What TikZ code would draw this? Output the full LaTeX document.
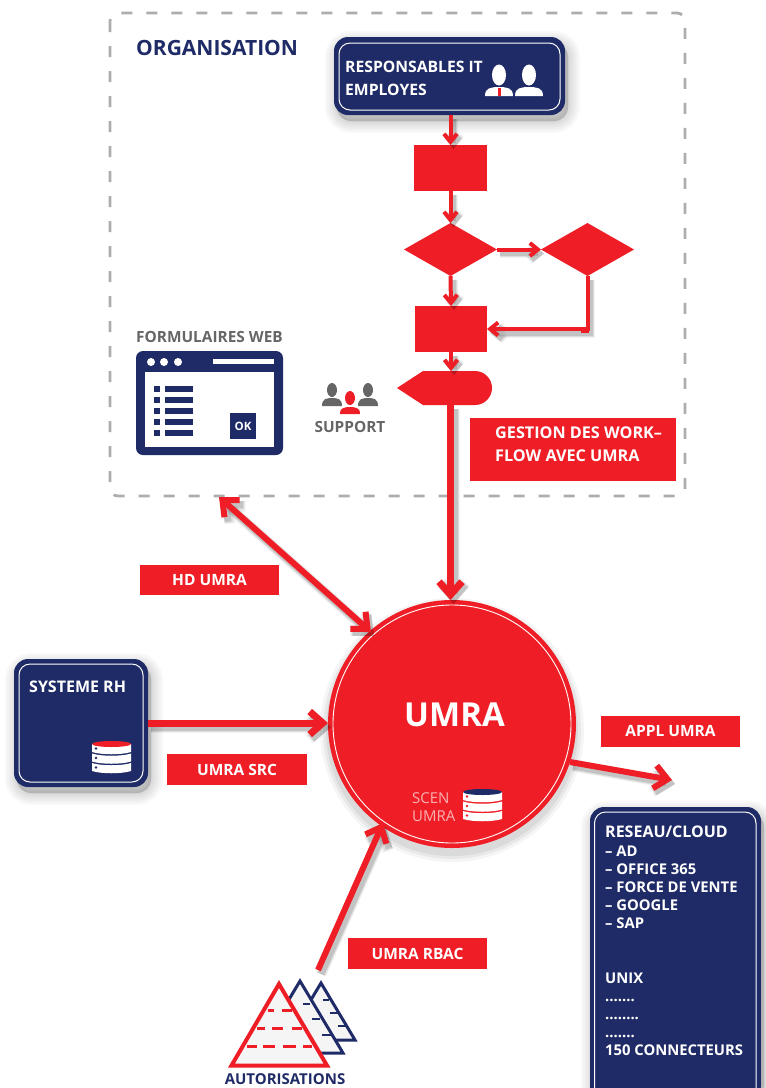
\documentclass[tikz,border=0pt]{standalone}
\usepackage{fontspec}
\setmainfont{Open Sans}
\usetikzlibrary{arrows.meta,shapes.geometric}
\definecolor{navy}{HTML}{1F2B66}
\definecolor{umred}{HTML}{EF1E26}
\definecolor{dashgray}{HTML}{ADADAD}
\definecolor{txtgray}{HTML}{666666}
\definecolor{trifill}{HTML}{F5F5F6}
\tikzset{
  redshape/.style={fill=umred,draw=none,inner sep=0pt,outer sep=0pt},
  reddia/.style={redshape,diamond,aspect=1.75,minimum width=93pt,minimum height=53pt},
  labelbox/.style={redshape,rectangle,text=white,font=\bfseries\fontsize{15.5}{17}\selectfont},
  navybox/.style={fill=navy,draw=none,rectangle,rounded corners=14pt,inner sep=0pt,outer sep=0pt},
  inset/.style={draw=white,line width=1pt,rounded corners=11pt},
  boxtext/.style={text=white,anchor=west,inner sep=0pt,font=\bfseries\fontsize{15.7}{17}\selectfont},
  listtext/.style={text=white,anchor=west,inner sep=0pt,font=\bfseries\fontsize{14.8}{16}\selectfont},
  gesttext/.style={text=white,anchor=west,inner sep=0pt,font=\bfseries\fontsize{16.2}{18}\selectfont},
  graytext/.style={text=txtgray,inner sep=0pt,font=\bfseries\fontsize{15.4}{17}\selectfont},
  scentext/.style={text=white,text opacity=.65,anchor=west,inner sep=0pt,font=\fontsize{15}{17}\selectfont},
  thintip/.style={-{Straight Barb[length=8pt,width=13pt]}},
  bigtip/.style={-{Straight Barb[length=13pt,width=23pt]}},
  twotip/.style={{Straight Barb[length=13pt,width=23pt]}-{Straight Barb[length=13pt,width=23pt]}},
}
% connector with a soft offset shadow: width, tip style, path
\newcommand\conn[3]{%
  \foreach \ex/\op in {5/.05,3/.08,1/.12}{%
    \pgfmathsetmacro\wd{#1+\ex}%
    \begin{scope}[transform canvas={shift={(3,4)}}]
      \draw[black,opacity=\op,line width=\wd pt,#2] #3;
    \end{scope}%
  }%
  \draw[umred,line width=#1pt,#2] #3;
}
% soft shadow under a rounded rectangle
\newcommand\softbox[4]{%
  \foreach \wd in {24,20,16,12,8,4,1}{%
    \begin{scope}[transform canvas={shift={(3,6)}}]
      \draw[black,fill=black,opacity=.022,line width=\wd pt,rounded corners=14pt] (#1,#2) rectangle (#3,#4);
    \end{scope}%
  }%
}
% database icon: centre x, top y, top colour, dot colour
\newcommand\dbicon[4]{%
  \begin{scope}[shift={(#1,#2)}]
    \foreach \t in {0,9.5,19}{%
      \fill[white] (-19.5,\t+3) .. controls (-10,\t+6) and (10,\t+6) .. (19.5,\t+3) -- (19.5,\t+11) .. controls (10,\t+14) and (-10,\t+14) .. (-19.5,\t+11) -- cycle;
      \fill[#4] (-15.5,\t+7.5) circle[radius=1.3];
    }
    \fill[#3] (0,3) ellipse[x radius=19.5,y radius=3];
  \end{scope}%
}
% person: head x, head y, head rx, ry, shoulder half width, shoulder top, base y, colour
\newcommand\person[8]{%
  \fill[#8] (#1,#2) ellipse[x radius=#3,y radius=#4];
  \fill[#8] (#1-#5,#7) .. controls (#1-#5,#6) and (#1-0.5*#5,#6+1) .. (#1-0.25*#5,#6) -- (#1+0.25*#5,#6) .. controls (#1+0.5*#5,#6+1) and (#1+#5,#6) .. (#1+#5,#7) -- cycle;
}
\begin{document}
\begin{tikzpicture}[x=1pt,y=-1pt]
\useasboundingbox (0,0) rectangle (766,1088);
\fill[white] (0,0) rectangle (766,1088);

% organisation frame
\node[draw=none,inner sep=0pt,minimum width=575pt,minimum height=483pt] (org) at (397.5,254.5) {};
\draw[dashgray,line width=2.8pt,dash pattern=on 11pt off 14pt,rounded corners=8pt] (110,13) rectangle (685,496);
\node[anchor=west,text=navy,inner sep=0pt,font=\bfseries\fontsize{21}{23}\selectfont] (orgt) at (136,48) {ORGANISATION};

% shadows of the boxes
\softbox{334}{37}{565}{115}
\softbox{14}{659}{148}{787}
\softbox{590}{807}{761}{1100}
\foreach \r/\o in {132/.04,129/.05,126/.06}{\fill[black,opacity=\o] (452,730) circle[radius=\r];}

% responsables
\node[navybox,minimum width=231pt,minimum height=78pt] (resp) at (449.5,76) {};
\draw[inset] (339,43) rectangle (560,110);
\node[boxtext] (respa) at (345,67) {RESPONSABLES IT};
\node[boxtext] (respb) at (345,90) {EMPLOYES};
\person{499}{75}{7}{10.5}{14}{87}{96}{white}
\fill[umred] (497.5,88) rectangle (500.5,96);
\person{529}{75}{7}{10.5}{14}{87}{96}{white}

% flow shapes
\node[redshape,rectangle,minimum width=73pt,minimum height=46pt] (r1) at (450.5,168) {};
\node[reddia] (d1) at (450.5,249.5) {};
\node[reddia] (d2) at (587.5,249.5) {};
\node[redshape,rectangle,minimum width=72pt,minimum height=46pt] (r2) at (451,329) {};
\fill[umred] (397,388) -- (423,371) -- (475,371) arc[start angle=-90,end angle=90,radius=17] -- (423,405) -- cycle;
\coordinate (pentT) at (451,371);
\coordinate (pentB) at (450.5,405);

% formulaires web
\node[graytext] (fw) at (209.5,337) {FORMULAIRES WEB};
\node[fill=navy,rectangle,rounded corners=7pt,inner sep=0pt,minimum width=147pt,minimum height=104pt] (web) at (209.5,403) {};
\fill[white] (145,372) rectangle (274,447);
\foreach \x in {151,164,178}{\fill[white] (\x,362) circle[radius=4];}
\fill[white] (213,359) rectangle (274,364);
\foreach \y in {389,400,411,422,433}{
  \fill[navy] (154,\y-3) rectangle (160,\y+3);
  \fill[navy] (165,\y-3) rectangle (193,\y+3);
}
\node[fill=navy,text=white,inner sep=0pt,minimum width=26pt,minimum height=26pt,font=\bfseries\fontsize{11.5}{13}\selectfont] (ok) at (243,426) {OK};

% support
\person{332}{390}{5}{7}{10}{398}{406}{txtgray}
\person{368}{390}{5}{7}{10}{398}{406}{txtgray}
\person{350}{398}{5}{7}{10}{407}{414}{umred}
\node[graytext] (sup) at (350,427) {SUPPORT};

% labels
\node[labelbox,minimum width=206pt,minimum height=63pt] (gest) at (573,449.5) {};
\node[gesttext] (gesta) at (495,433) {GESTION DES WORK–};
\node[gesttext] (gestb) at (495,456) {FLOW AVEC UMRA};
\node[labelbox,minimum width=139pt,minimum height=30pt] (hd) at (209.5,580) {HD UMRA};
\node[labelbox,minimum width=140pt,minimum height=31pt] (src) at (237,769.5) {UMRA SRC};
\node[labelbox,minimum width=139pt,minimum height=31pt] (appl) at (670.5,731.5) {APPL UMRA};
\node[labelbox,minimum width=139pt,minimum height=31pt] (rbac) at (417.5,953.5) {UMRA RBAC};

% systeme rh
\node[navybox,minimum width=134pt,minimum height=128pt] (rh) at (81,723) {};
\draw[inset] (19,664) rectangle (143,782);
\node[boxtext,font=\bfseries\fontsize{16}{18}\selectfont] (rht) at (29,687) {SYSTEME RH};
\dbicon{111.5}{741}{umred}{navy}

% reseau
\node[navybox,minimum width=171pt,minimum height=293pt] (res) at (675.5,953.5) {};
\draw[inset] (594.5,812) rectangle (756,1120);
\node[boxtext,font=\bfseries\fontsize{16}{18}\selectfont] (ra) at (605,832) {RESEAU/CLOUD};
\node[listtext] (rb) at (605,851) {– AD};
\node[listtext] (rc) at (605,869) {– OFFICE 365};
\node[listtext] (rd) at (605,887) {– FORCE DE VENTE};
\node[listtext] (re) at (605,905) {– GOOGLE};
\node[listtext] (rf) at (605,923) {– SAP};
\node[listtext] (rg) at (605,978) {UNIX};
\node[listtext] (rh1) at (605,1000) {.......};
\node[listtext] (rh2) at (605,1018) {........};
\node[listtext] (rh3) at (605,1036) {.......};
\node[listtext] (ri) at (605,1050) {150 CONNECTEURS};

% umra circle
\node[circle,fill=umred,draw=none,inner sep=0pt,outer sep=0pt,minimum size=248pt] (umra) at (452,724) {};
\draw[white,line width=.9pt] (452,724) circle[radius=119];
\node[text=white,inner sep=0pt,font=\bfseries\fontsize{33}{36}\selectfont] (umrat) at (454.5,715) {UMRA};
\node[scentext] (sa) at (412,798) {SCEN};
\node[scentext] (sb) at (412,816) {UMRA};
\dbicon{482.5}{789}{navy}{umred}

% autorisations
\foreach \ax/\ay/\hw/\by in {321/983/34/1040,300/981/43/1053}{
  \draw[navy,fill=trifill,line width=3pt,line join=miter] (\ax,\ay) -- (\ax+\hw,\by) -- (\ax-\hw,\by) -- cycle;
}
\foreach \xa/\xb/\yy in {323/329/1000,330/338/1013,338/346/1026,
  303/310/1004,312/320/1019,322/331/1035}{
  \draw[navy,line width=2.6pt] (\xa,\yy) -- (\xb,\yy);
}
\draw[umred,fill=trifill,line width=4pt,line join=miter] (279,984) -- (327,1065.5) -- (231.5,1065.5) -- cycle;
\foreach \xa/\xb/\yy in {268/274/1010,282/292/1010,257/265/1028,272/283/1028,292/302/1028,
  247/257/1046,263/275/1046,283/296/1046,303/312/1046}{
  \draw[umred,line width=3pt] (\xa,\yy) -- (\xb,\yy);
}
\node[text=navy,inner sep=0pt,font=\bfseries\fontsize{15}{16}\selectfont] (aut) at (285,1079.5) {AUTORISATIONS};

% connectors
\coordinate (hdA) at (219,497);
\coordinate (hdB) at (371,632);
\coordinate (srcB) at (328,723);
\coordinate (srcA) at (148,723);
\coordinate (aplA) at (570,762);
\coordinate (aplB) at (672,780);
\coordinate (rbA) at (318,970);
\coordinate (rbB) at (383,823);
\conn{4}{thintip}{(resp.south -| r1) -- (r1.north)}
\conn{4}{thintip}{(r1.south) -- (d1.north)}
\conn{4}{thintip}{(d1.east) -- (d2.west)}
\conn{4}{thintip}{(d1.south) -- (r2.north)}
\conn{4}{thintip}{(d2.south) |- (r2.east)}
\fill[umred] (581,327) rectangle (588.5,333);
\conn{4}{thintip}{(r2.south) -- (pentT)}
\conn{7}{bigtip}{(pentB) -- (450.5,600)}
\conn{6}{twotip}{(hdA) -- (hdB)}
\conn{7}{bigtip}{(srcA) -- (srcB)}
\conn{6}{bigtip}{(aplA) -- (aplB)}
\conn{6}{bigtip}{(rbA) -- (rbB)}
\end{tikzpicture}
\end{document}
